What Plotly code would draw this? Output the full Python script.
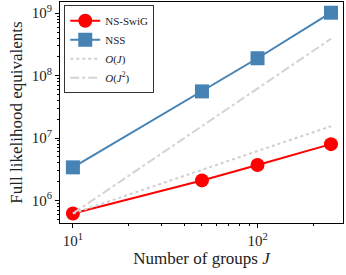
import plotly.graph_objects as go

groups = [10, 50, 100, 250]
ns_swig = [6.2e5, 2.1e6, 3.7e6, 8.0e6]
nss = [3.4e6, 5.6e7, 1.9e8, 1.02e9]
ref_x = [10, 250]
o_j = [6.2e5, 1.55e7]
o_j2 = [6.2e5, 3.9e8]

x_ticks = [10, 100]
x_ticktext = ["10<sup>1</sup>", "10<sup>2</sup>"]
y_ticks = [1e6, 1e7, 1e8, 1e9]
y_ticktext = ["10<sup>6</sup>", "10<sup>7</sup>", "10<sup>8</sup>", "10<sup>9</sup>"]

FONT = "Liberation Serif"

fig = go.Figure()
fig.add_trace(go.Scatter(x=groups, y=ns_swig, mode="lines+markers", name="NS-SwiG",
                         line=dict(color="#ff0000", width=2),
                         marker=dict(symbol="circle", size=14, color="#ff0000")))
fig.add_trace(go.Scatter(x=groups, y=nss, mode="lines+markers", name="NSS",
                         line=dict(color="#4682b4", width=2),
                         marker=dict(symbol="square", size=14, color="#4682b4")))
fig.add_trace(go.Scatter(x=ref_x, y=o_j, mode="lines", name="<i>O</i>(<i>J</i>)",
                         line=dict(color="#cfcfcf", width=2, dash="dot")))
fig.add_trace(go.Scatter(x=ref_x, y=o_j2, mode="lines", name="<i>O</i>(<i>J</i><sup>2</sup>)",
                         line=dict(color="#d3d3d3", width=2, dash="dashdot")))

fig.update_layout(
    width=346, height=275,
    margin=dict(l=60, r=3, t=2, b=52, autoexpand=False),
    paper_bgcolor="white", plot_bgcolor="white",
    font=dict(family=FONT, color="#222222", size=15),
    legend=dict(x=0.015, y=0.985, xanchor="left", yanchor="top",
                bordercolor="#333333", borderwidth=1, bgcolor="white",
                font=dict(size=11, family=FONT, color="#222222"), tracegroupgap=0,
                itemwidth=30),
    showlegend=True,
)
fig.update_xaxes(type="log", range=[0.93, 2.463], automargin=False,
                 tickvals=x_ticks, ticktext=x_ticktext,
                 ticks="outside", ticklen=4, tickcolor="black",
                 minor=dict(ticks="outside", ticklen=2, tickcolor="black",
                            tickvals=[20, 30, 40, 50, 60, 70, 80, 90, 200]),
                 showline=True, linecolor="black", linewidth=1, mirror=True,
                 showgrid=False, zeroline=False,
                 title=dict(text="Number of groups <i>J</i>", font=dict(size=17, family=FONT), standoff=4),
                 tickfont=dict(size=15, family=FONT))
fig.update_yaxes(type="log", range=[5.64, 9.18], automargin=False,
                 tickvals=y_ticks, ticktext=y_ticktext,
                 ticks="outside", ticklen=4, tickcolor="black",
                 minor=dict(ticks="outside", ticklen=2, tickcolor="black",
                            tickvals=[m * 10 ** e for e in range(5, 10) for m in range(2, 10)]),
                 showline=True, linecolor="black", linewidth=1, mirror=True,
                 showgrid=False, zeroline=False,
                 title=dict(text="Full likelihood equivalents", font=dict(size=17, family=FONT), standoff=4),
                 tickfont=dict(size=15, family=FONT))

fig.write_html("out.html", config={"displayModeBar": False},
               post_script="document.body.style.margin='0';")
